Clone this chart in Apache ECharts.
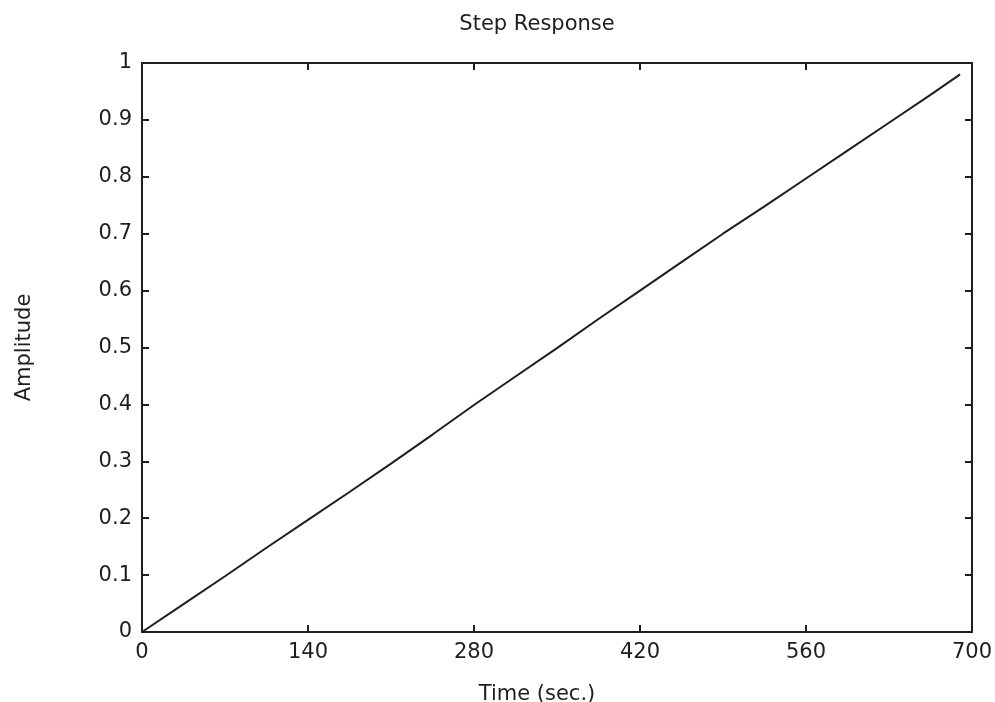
<!DOCTYPE html>
<html>
<head>
<meta charset="utf-8">
<script src="https://cdn.jsdelivr.net/npm/echarts@6/dist/echarts.min.js"></script>
<style>
  html, body {margin: 0; padding: 0; background: #fff;}
  #chart {width: 995px; height: 702px;}
</style>
</head>
<body>
<div id="chart"></div>
<script>
// step response
const timeValues = [0, 35, 70, 105, 140, 175, 210, 245, 280, 315, 350, 385, 420, 455, 490, 525, 560, 595, 630, 665, 690];
const amplitudeValues = [0, 0.049, 0.098, 0.148, 0.197, 0.246, 0.296, 0.347, 0.399, 0.449, 0.499, 0.550, 0.600, 0.650, 0.700, 0.748, 0.797, 0.846, 0.895, 0.944, 0.980];
const xTicks = [0, 140, 280, 420, 560, 700];
const yTicks = [0, 0.1, 0.2, 0.3, 0.4, 0.5, 0.6, 0.7, 0.8, 0.9, 1];

const INK = "#1e1e1e";
const FONT = "DejaVu Sans";

const chart = echarts.init(document.getElementById("chart"));

const frameAxis = (extra) => ({
  axisLine: {show: true, onZero: false, lineStyle: {color: INK, width: 2}},
  axisTick: {show: true, inside: true, length: 7, lineStyle: {color: INK, width: 2}},
  splitLine: {show: false},
  ...extra,
});

chart.setOption({
  animation: false,
  backgroundColor: "#fff",
  title: [
    {
      text: "Step Response",
      left: 532, top: 9, textAlign: "center",
      textStyle: {fontFamily: FONT, fontSize: 21, fontWeight: "normal", color: INK},
    },
    {
      text: "Time (sec.)",
      left: 532, top: 679, textAlign: "center",
      textStyle: {fontFamily: FONT, fontSize: 21, fontWeight: "normal", color: INK},
    },
  ],
  grid: {left: 142, right: 21, top: 63, bottom: 70, containLabel: false},
  xAxis: [
    frameAxis({
      type: "value", position: "bottom",
      min: xTicks[0], max: xTicks[xTicks.length - 1], interval: 140,
      axisLabel: {color: INK, fontFamily: FONT, fontSize: 21, margin: 10},
    }),
    frameAxis({
      type: "value", position: "top",
      min: xTicks[0], max: xTicks[xTicks.length - 1], interval: 140,
      axisLabel: {show: false},
    }),
  ],
  yAxis: [
    frameAxis({
      type: "value", position: "left",
      min: yTicks[0], max: yTicks[yTicks.length - 1], interval: 0.1,
      name: "Amplitude", nameLocation: "middle", nameGap: 107,
      nameTextStyle: {fontFamily: FONT, fontSize: 21, color: INK},
      axisLabel: {color: INK, fontFamily: FONT, fontSize: 21, margin: 10},
    }),
    frameAxis({
      type: "value", position: "right",
      min: yTicks[0], max: yTicks[yTicks.length - 1], interval: 0.1,
      axisLabel: {show: false},
    }),
  ],
  series: [
    {
      type: "line",
      data: timeValues.map((t, i) => [t, amplitudeValues[i]]),
      showSymbol: false,
      lineStyle: {color: INK, width: 2},
      clip: false,
    },
  ],
});
</script>
</body>
</html>
